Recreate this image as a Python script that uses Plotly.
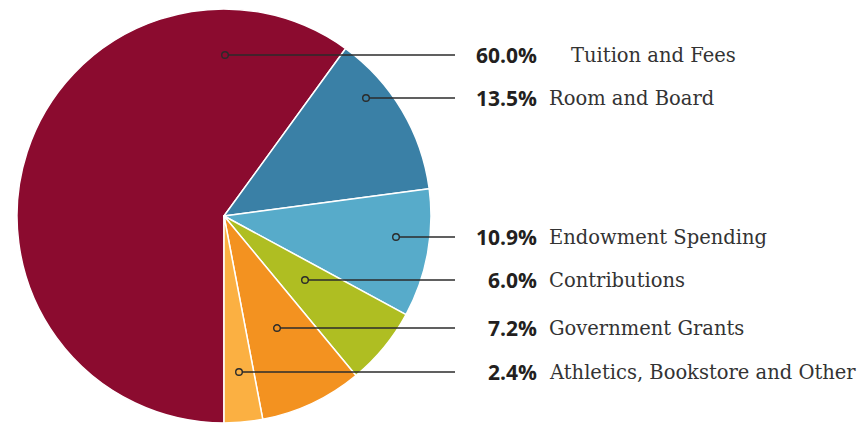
import plotly.graph_objects as go

# page body has an 8px default margin; the figure is sized/positioned to compensate
OFF = 8
W, H = 865 - OFF, 424 - OFF

categories = ["Tuition and Fees", "Room and Board", "Endowment Spending",
              "Contributions", "Government Grants", "Athletics, Bookstore and Other"]
slice_values = [60.0, 12.9, 10.0, 6.1, 8.0, 3.0]          # as drawn
pct_labels = ["60.0%", "13.5%", "10.9%", "6.0%", "7.2%", "2.4%"]  # as printed
colors = ["#8B0B2F", "#3A80A6", "#57ABCA", "#AFBE22", "#F39220", "#FBB042"]

# layout of callouts (window pixels)
label_y = [55, 98, 237, 280, 328, 372]
dot_x = [225, 366, 396, 305, 277, 239]
name_x = [572, 550, 550, 550, 550, 550]
line_end_x = 455
pct_right_x = 536
PAD = 3  # annotation inner padding

cx, cy, r = 224, 216, 207

def px(x):
    return (x - OFF) / W

def py(y):
    return 1 - (y - OFF) / H

fig = go.Figure(go.Pie(
    labels=categories, values=slice_values, sort=False,
    direction="clockwise", rotation=180,
    marker=dict(colors=colors, line=dict(color="white", width=1.5)),
    textinfo="none", hoverinfo="label+percent", showlegend=False,
    domain=dict(x=[px(cx - r), px(cx + r)], y=[py(cy + r), py(cy - r)]),
))

shapes = []
annotations = []
for i in range(len(categories)):
    y = label_y[i]
    shapes.append(dict(type="line", xref="paper", yref="paper",
                       x0=px(dot_x[i] + 3), x1=px(line_end_x), y0=py(y), y1=py(y),
                       line=dict(color="#2b2b2b", width=1.4)))
    shapes.append(dict(type="circle", xref="paper", yref="paper",
                       x0=px(dot_x[i] - 3.3), x1=px(dot_x[i] + 3.3),
                       y0=py(y + 3.3), y1=py(y - 3.3),
                       line=dict(color="#2b2b2b", width=1.4)))
    annotations.append(dict(xref="paper", yref="paper", x=px(pct_right_x + PAD), y=py(y),
                            xanchor="right", yanchor="middle", showarrow=False,
                            text="<b>" + pct_labels[i] + "</b>",
                            font=dict(family="Open Sans", size=21, color="#231F20")))
    annotations.append(dict(xref="paper", yref="paper", x=px(name_x[i] - PAD), y=py(y),
                            xanchor="left", yanchor="middle", showarrow=False,
                            text=categories[i],
                            font=dict(family="DejaVu Serif", size=19.5, color="#333333")))

fig.update_layout(width=W, height=H, margin=dict(l=0, r=0, t=0, b=0),
                  paper_bgcolor="white", plot_bgcolor="white",
                  shapes=shapes, annotations=annotations)

fig.write_html("out.html")
